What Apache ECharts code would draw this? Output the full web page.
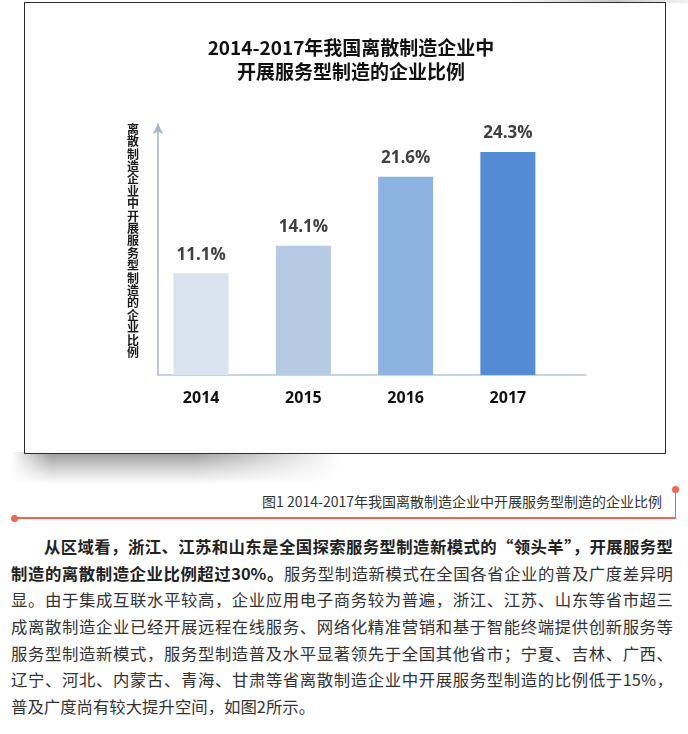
<!DOCTYPE html>
<html>
<head>
<meta charset="utf-8">
<script src="https://cdn.jsdelivr.net/npm/echarts@6/dist/echarts.min.js"></script>
<style>
html,body{margin:0;padding:0;background:#fff;}
body{width:688px;height:734px;position:relative;overflow:hidden;font-family:"Noto Sans CJK SC","Noto Sans",sans-serif;}
#topshade{position:absolute;left:500px;top:0;width:188px;height:3px;background:linear-gradient(to right,rgba(0,0,0,0),rgba(0,0,0,0.22) 60%,rgba(0,0,0,0.05));}
#shadow{position:absolute;left:11px;top:452px;width:330px;height:32px;
  background:linear-gradient(to bottom,rgba(0,0,0,0.40),rgba(0,0,0,0.18) 50%,rgba(0,0,0,0));
  -webkit-mask-image:linear-gradient(to right,rgba(0,0,0,0) 0,#000 12%,#000 55%,rgba(0,0,0,0) 100%);
  mask-image:linear-gradient(to right,rgba(0,0,0,0) 0,#000 12%,#000 55%,rgba(0,0,0,0) 100%);}
#frame{position:absolute;left:24px;top:2px;width:642px;height:452px;border:1.6px solid #2e2e2e;box-sizing:border-box;background:#fff;}
#chart{position:absolute;left:0;top:0;width:688px;height:460px;}
#caption{position:absolute;right:26px;top:491px;font-size:14px;line-height:20px;color:#333;white-space:nowrap;}
.rl{position:absolute;background:#ef654d;}
.dot{position:absolute;width:7px;height:7px;border-radius:50%;background:#ef654d;}
#para{position:absolute;left:11px;top:533px;width:662px;font-size:16.4px;color:#333;}
#para .ln{height:26.67px;line-height:26.67px;text-align:justify;text-align-last:justify;overflow:visible;}
#para .ln.last{text-align-last:left;}
#para b{color:#222;font-weight:bold;}
</style>
</head>
<body>
<div id="topshade"></div>
<div id="shadow"></div>
<div id="frame"></div>
<div id="chart"></div>
<div id="caption"></div>
<div class="rl" style="left:14px;top:517px;width:662px;height:1.5px;"></div>
<div class="rl" style="left:674.5px;top:489px;width:1.5px;height:29.5px;"></div>
<div class="dot" style="left:10.5px;top:514.5px;"></div>
<div class="dot" style="left:671.5px;top:485.5px;"></div>
<div id="para"></div>
<script>
// ---- data ----
const titleText = '2014-2017年我国离散制造企业中\n开展服务型制造的企业比例';
const yAxisName = '离散制造企业中开展服务型制造的企业比例';
const categories = ['2014', '2015', '2016', '2017'];
const values = [11.1, 14.1, 21.6, 24.3];
const captionText = '图1 2014-2017年我国离散制造企业中开展服务型制造的企业比例';
const paraLines = [
  ['从区域看，浙江、江苏和山东是全国探索服务型制造新模式的“领头羊”，开展服务型', ''],
  ['制造的离散制造企业比例超过30%。', '服务型制造新模式在全国各省企业的普及广度差异明'],
  ['', '显。由于集成互联水平较高，企业应用电子商务较为普遍，浙江、江苏、山东等省市超三'],
  ['', '成离散制造企业已经开展远程在线服务、网络化精准营销和基于智能终端提供创新服务等'],
  ['', '服务型制造新模式，服务型制造普及水平显著领先于全国其他省市；宁夏、吉林、广西、'],
  ['', '辽宁、河北、内蒙古、青海、甘肃等省离散制造企业中开展服务型制造的比例低于15%，'],
  ['', '普及广度尚有较大提升空间，如图2所示。']
];

// ---- styles ----
const barColors = ['#dae4f0', '#b7cae4', '#8cb3e2', '#538cd4'];

document.getElementById('caption').textContent = captionText;
const para = document.getElementById('para');
paraLines.forEach((l, i) => {
  const d = document.createElement('div');
  d.className = 'ln' + (i === paraLines.length - 1 ? ' last' : '');
  if (i === 0) d.style.paddingLeft = '33px';
  if (l[0]) { const b = document.createElement('b'); b.textContent = l[0]; d.appendChild(b); }
  if (l[1]) d.appendChild(document.createTextNode(l[1]));
  para.appendChild(d);
});

const chart = echarts.init(document.getElementById('chart'));
chart.setOption({
  animation: false,
  title: {
    text: titleText, left: 351, top: 36, textAlign: 'center', padding: 0,
    textStyle: { fontSize: 19, fontWeight: 'bold', color: '#111', lineHeight: 24, fontFamily: 'Noto Sans CJK SC' }
  },
  grid: [
    { left: 150, width: 409, top: 120, height: 255 },
    { left: 158, width: 428, top: 124, height: 251 }
  ],
  xAxis: [
    {
      type: 'category', gridIndex: 0, data: categories,
      axisLine: { show: false }, axisTick: { show: false },
      axisLabel: { margin: 15, fontSize: 16, fontWeight: 'bold', color: '#111', fontFamily: 'Open Sans' }
    },
    {
      type: 'value', gridIndex: 1, min: 0, max: 1,
      axisLine: { show: true, lineStyle: { color: '#bcc6d0', width: 1.5 } },
      axisTick: { show: false }, axisLabel: { show: false }, splitLine: { show: false }
    }
  ],
  yAxis: [
    { type: 'value', gridIndex: 0, min: 0, max: 27.8, show: false },
    {
      type: 'value', gridIndex: 1, min: 0, max: 1,
      axisLine: { show: true, symbol: ['none', 'arrow'], symbolSize: [8, 10], lineStyle: { color: '#a2b5c9', width: 1.5 } },
      axisTick: { show: false }, axisLabel: { show: false }, splitLine: { show: false }
    }
  ],
  graphic: [{
    type: 'text', x: 133, y: 123,
    style: {
      text: yAxisName.split('').join('\n'), fontSize: 12, lineHeight: 12.4, fontWeight: 'bold',
      fill: '#1a1a1a', align: 'center', verticalAlign: 'top', fontFamily: 'Noto Sans CJK SC'
    }
  }],
  series: [{
    type: 'bar', xAxisIndex: 0, yAxisIndex: 0, barWidth: 55,
    data: values.map((v, i) => ({ value: v, itemStyle: { color: barColors[i] } })),
    label: {
      show: true, position: 'top', distance: 10, formatter: '{c}%',
      fontSize: 17, fontWeight: 'bold', color: '#404040', fontFamily: 'Open Sans'
    }
  }]
});
</script>
</body>
</html>
